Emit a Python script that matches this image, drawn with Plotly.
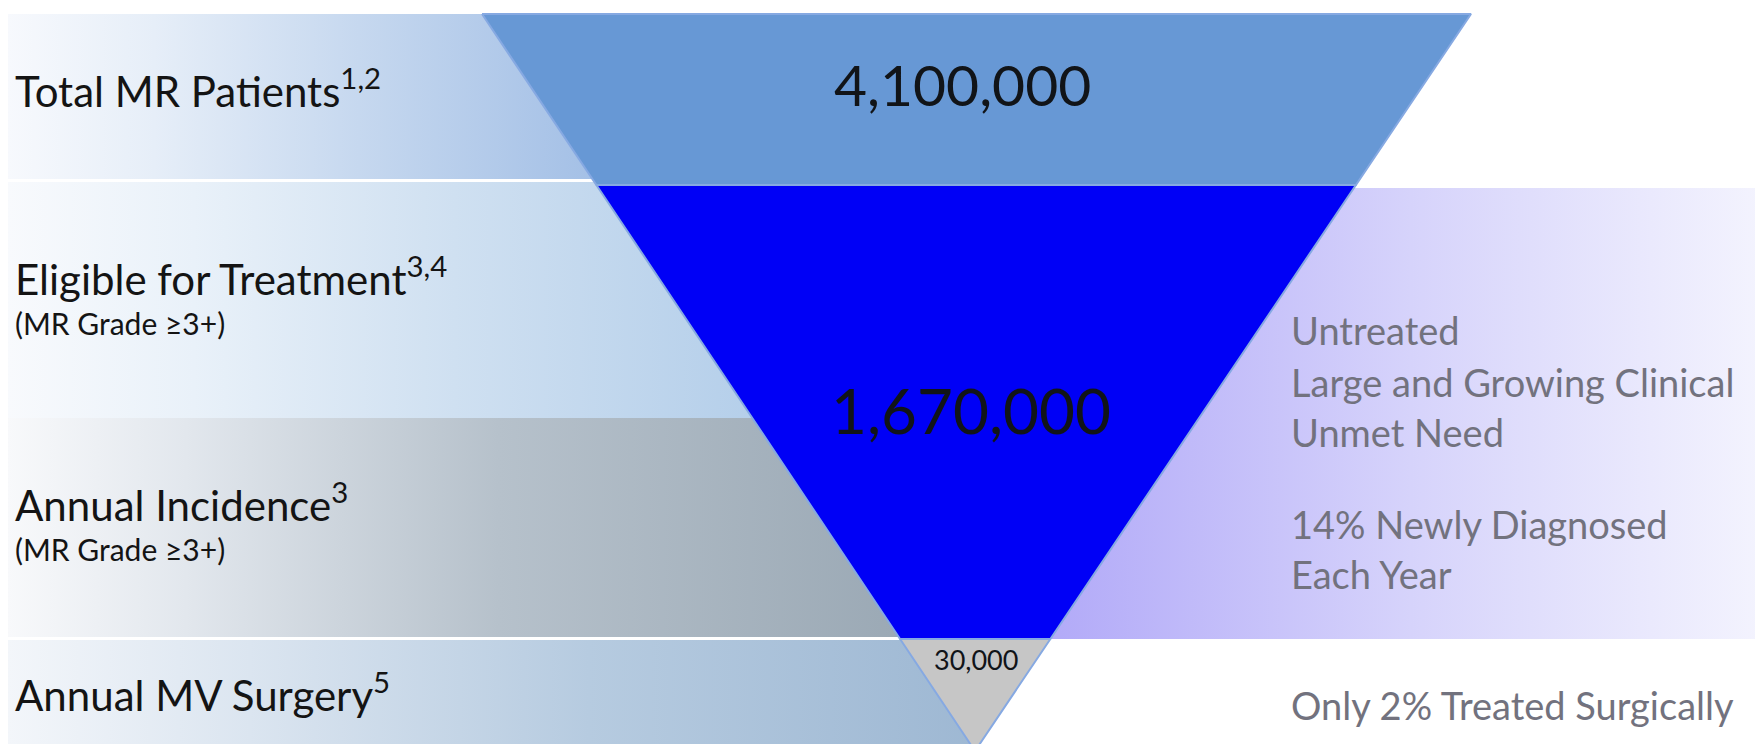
import plotly.graph_objects as go

# ---------------- data ----------------
stage_names = ["Total MR Patients", "Eligible for Treatment", "Annual Incidence", "Annual MV Surgery"]
stage_refs = ["1,2", "3,4", "3", "5"]
stage_subtitles = ["", "(MR Grade ≥3+)", "(MR Grade ≥3+)", ""]
funnel_values = [4100000, 1670000, 30000]
right_notes = ["Untreated", "Large and Growing Clinical", "Unmet Need", "14% Newly Diagnosed", "Each Year"]
bottom_note = "Only 2% Treated Surgically"

# ---------------- geometry / style (layout units = pixels) ----------------
W, H = 1763, 744
TOP_Y, APEX_Y = 6, 743
TOP_L, TOP_R, APEX_X = 474, 1463, 967
SECTION_Y = [TOP_Y, 177, 631, APEX_Y]          # funnel section boundaries
SECTION_COLORS = ["#6798d5", "#0000f6", "#c6c6c6"]
EDGE_COLOR = "#86a9e2"

LEFT_BANDS = [  # (y0, y1, colorscale)
    (6, 171, [[0, "#f7f9fd"], [0.25, "#e6eef8"], [0.6, "#c6d8ef"], [1, "#a4c0e6"]]),
    (174, 410, [[0, "#f8fafd"], [0.25, "#e9f1f9"], [0.6, "#cfe0f1"], [1, "#b5cfea"]]),
    (410, 629, [[0, "#f8f9fb"], [0.2, "#e2e7ed"], [0.55, "#b6c1cb"], [1, "#9ba9b5"]]),
    (632, 744, [[0, "#f3f6fa"], [0.25, "#dbe5f0"], [0.6, "#b6cbe0"], [1, "#9eb8d3"]]),
]
RIGHT_BAND = (180, 631, [[0, "#b2aaf8"], [0.5, "#d6d3fb"], [1, "#f4f4fe"]])


def left_x(y):
    return TOP_L + (APEX_X - TOP_L) * (y - TOP_Y) / (APEX_Y - TOP_Y)


def right_x(y):
    return TOP_R + (APEX_X - TOP_R) * (y - TOP_Y) / (APEX_Y - TOP_Y)


fig = go.Figure()

# left gradient bands
for y0, y1, cs in LEFT_BANDS:
    fig.add_trace(go.Scatter(
        x=[0, left_x(y0), left_x(y1), 0, 0], y=[y0, y0, y1, y1, y0],
        mode="lines", line=dict(width=0), fill="toself",
        fillgradient=dict(type="horizontal", colorscale=cs),
        hoverinfo="skip", showlegend=False))

# right gradient panel
ry0, ry1, rcs = RIGHT_BAND
fig.add_trace(go.Scatter(
    x=[right_x(ry0), W, W, right_x(ry1), right_x(ry0)], y=[ry0, ry0, ry1, ry1, ry0],
    mode="lines", line=dict(width=0), fill="toself",
    fillgradient=dict(type="horizontal", colorscale=rcs),
    hoverinfo="skip", showlegend=False))

# funnel sections
for i, v in enumerate(funnel_values):
    y0, y1 = SECTION_Y[i], SECTION_Y[i + 1]
    xs = [left_x(y0), right_x(y0), right_x(y1), left_x(y1), left_x(y0)]
    ys = [y0, y0, y1, y1, y0]
    fig.add_trace(go.Scatter(
        x=xs, y=ys, mode="lines", line=dict(width=2, color=EDGE_COLOR),
        fill="toself", fillcolor=SECTION_COLORS[i],
        hoverinfo="skip", showlegend=False))

# value labels
value_pos = [(954, 76, 57), (963, 402, 62), (968, 651, 27)]
for v, (x, y, s) in zip(funnel_values, value_pos):
    fig.add_annotation(x=x, y=y, text=f"{v:,}", showarrow=False,
                       font=dict(size=s, color="#111418"), xanchor="center", yanchor="middle")

# left labels
label_y = [80, 268, 494, 684]
sub_y = [None, 315, 541, None]
for name, ref, sub, y, sy in zip(stage_names, stage_refs, stage_subtitles, label_y, sub_y):
    fig.add_annotation(x=5, y=y, text=f"{name}<sup>{ref}</sup>", showarrow=False,
                       font=dict(size=42, color="#141414"), xanchor="left", yanchor="middle")
    if sub:
        fig.add_annotation(x=5, y=sy, text=sub, showarrow=False,
                           font=dict(size=30, color="#141414"), xanchor="left", yanchor="middle")

# right notes
note_y = [322, 374, 424, 516, 566]
for t, y in zip(right_notes, note_y):
    fig.add_annotation(x=1281, y=y, text=t, showarrow=False,
                       font=dict(size=38, color="#72727e"), xanchor="left", yanchor="middle")
fig.add_annotation(x=1281, y=697, text=bottom_note, showarrow=False,
                   font=dict(size=38, color="#72727e"), xanchor="left", yanchor="middle")

fig.update_layout(
    width=W, height=H, margin=dict(l=0, r=0, t=0, b=0),
    paper_bgcolor="white", plot_bgcolor="white",
    font=dict(family="Lato, 'Open Sans', sans-serif"),
    xaxis=dict(range=[0, W], visible=False, fixedrange=True),
    yaxis=dict(range=[H, 0], visible=False, fixedrange=True),
    hovermode=False, showlegend=False,
)

fig.write_html("out.html")
